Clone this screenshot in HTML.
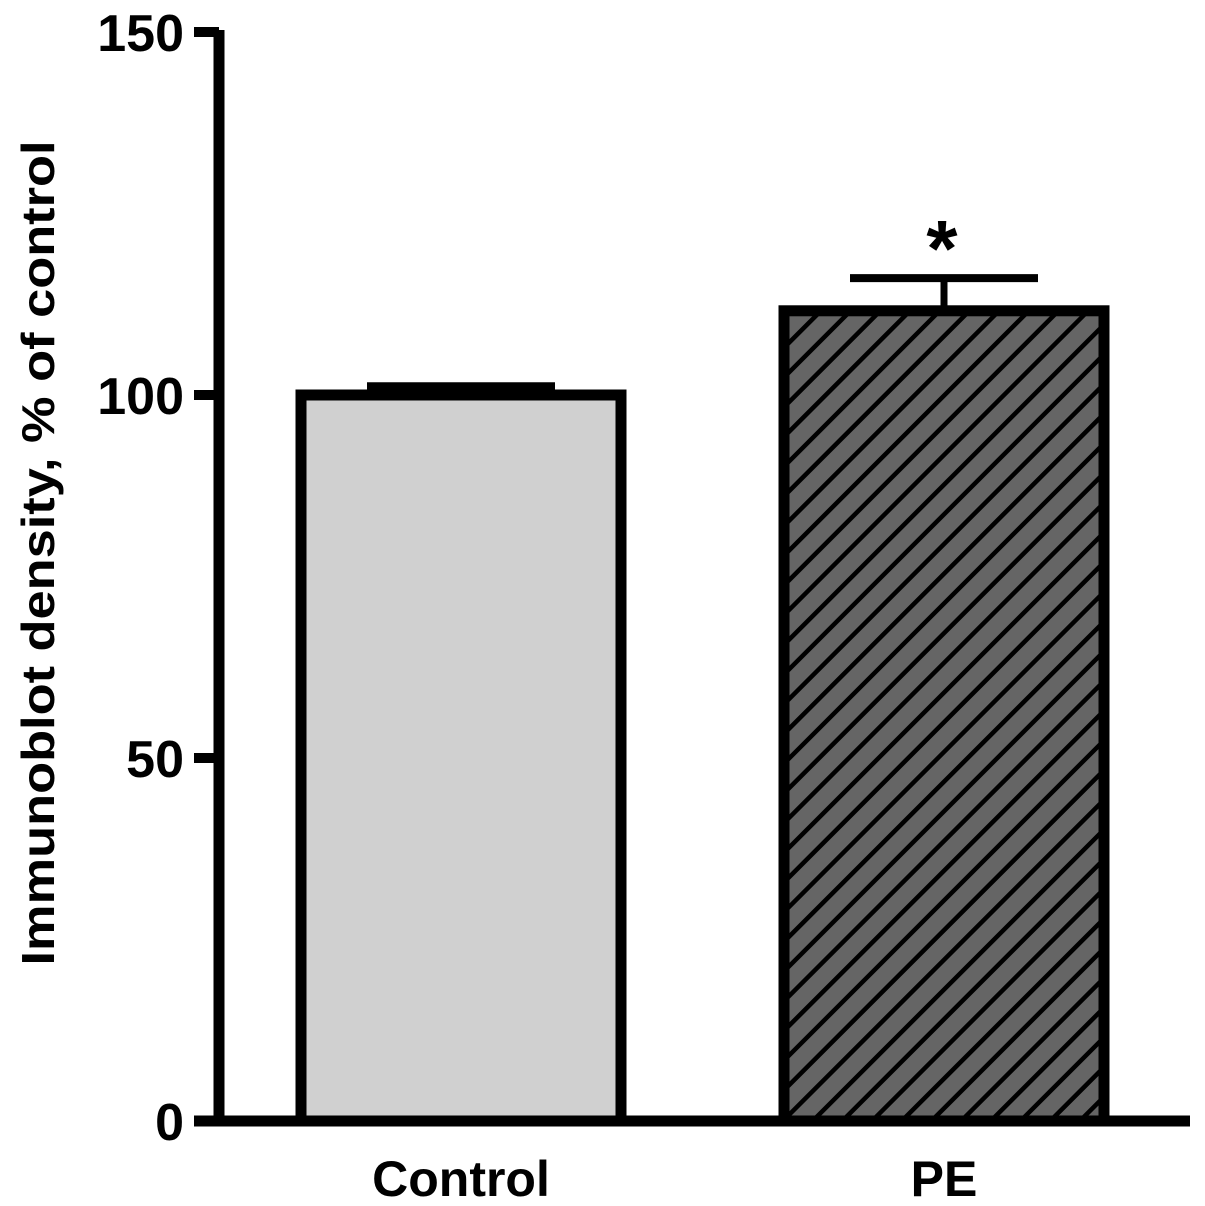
<!DOCTYPE html>
<html><head><meta charset="utf-8"><style>
html,body{margin:0;padding:0;background:#fff;}
svg{display:block;}
text{font-family:"Liberation Sans",Arial,sans-serif;font-weight:bold;fill:#000;}
</style></head><body>
<svg id="chart" width="1205" height="1206" viewBox="0 0 1205 1206">
<defs>
<pattern id="hatch" patternUnits="userSpaceOnUse" width="21" height="21" patternTransform="rotate(45)">
<rect width="21" height="21" fill="#656565"/>
<rect x="0" y="0" width="4.5" height="21" fill="#000"/>
</pattern>
</defs>
<g id="plot"></g>
</svg>
<script>
const categories = ["Control", "PE"];
const values = [100, 111.6];
const errors = [1.2, 4.5];
const yTicks = [0, 50, 100, 150];
const yTickLabels = ["0", "50", "100", "150"];
const sig = ["", "*"];

const NS = "http://www.w3.org/2000/svg";
const g = document.getElementById("plot");
const y0 = 1121, pxPer = 7.26;
function y(v){ return y0 - v * pxPer; }
const centers = [461, 944];
function x(i){ return centers[i]; }
const barW = 320, capW = [188, 188];
function mk(tag, attrs){ const e = document.createElementNS(NS, tag); for (const k in attrs) e.setAttribute(k, attrs[k]); g.appendChild(e); return e; }

categories.forEach((c, i) => {
  const top = y(values[i]);
  const b = mk("rect", {x: x(i) - barW/2, y: top, width: barW, height: y0 - top, fill: i === 0 ? "#d0d0d0" : "url(#hatch)", stroke: "#000", "stroke-width": 11});
  
  
  const et = y(values[i] + errors[i]);
  const st = mk("line", {x1: x(i), x2: x(i), y1: top, y2: et, stroke: "#000", "stroke-width": 7});
  
  
  const cap = mk("line", {x1: x(i) - capW[i]/2, x2: x(i) + capW[i]/2, y1: et, y2: et, stroke: "#000", "stroke-width": 8});
  
  
  const lab = mk("text", {x: x(i), y: 1196, "font-size": 50, "text-anchor": "middle"});
  lab.textContent = c;
  
  
  if (sig[i]) {
    const s = mk("text", {x: x(i) - 2, y: et - 2, "font-size": 80, "text-anchor": "middle"});
    s.textContent = sig[i];
    
    
  }
});

const ya = mk("line", {x1: 219, x2: 219, y1: y(150) - 2, y2: y0 + 5, stroke: "#000", "stroke-width": 11});


const xa = mk("line", {x1: 194, x2: 1190, y1: y0, y2: y0, stroke: "#000", "stroke-width": 11});


yTicks.forEach((t, i) => {
  const tk = mk("line", {x1: 194, x2: 219, y1: y(t), y2: y(t), stroke: "#000", "stroke-width": 10});
  
  
  const tl = mk("text", {x: 184, y: y(t) + 19, "font-size": 52, "text-anchor": "end"});
  tl.textContent = yTickLabels[i];
  
  
});
const yt = mk("text", {x: 0, y: 0, "font-size": 46, "text-anchor": "middle", transform: "translate(54,553) rotate(-90)", textLength: 825, lengthAdjust: "spacingAndGlyphs"});
yt.textContent = "Immunoblot density, % of control";


</script>
</body></html>
